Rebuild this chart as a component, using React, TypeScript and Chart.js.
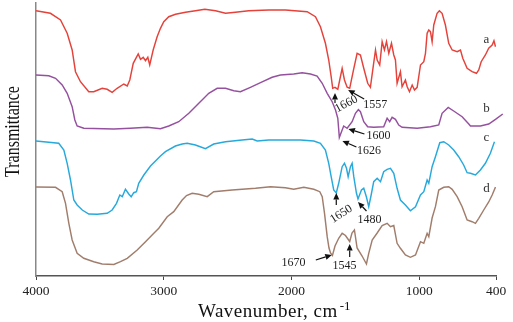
import React, { useEffect, useRef } from "react";
import { Chart, registerables } from "chart.js";

Chart.register(...registerables);

// Wavenumber axis ticks (cm-1), drawn from high to low
const X_TICKS = [4000, 3000, 2000, 1000, 400];

// Spectrum a
const waveA = [
  4000, 3887, 3808, 3756, 3717, 3691, 3652, 3587, 3548, 3482,
  3443, 3404, 3365, 3313, 3286, 3266, 3239, 3200, 3182, 3161,
  3143, 3125, 3110, 3083, 3052, 3026, 3000, 2961, 2908, 2830,
  2752, 2679, 2595, 2517, 2439, 2335, 2178, 2048, 1878, 1813,
  1774, 1735, 1709, 1690, 1678, 1660, 1638, 1623, 1604, 1586,
  1565, 1545, 1518, 1487, 1461, 1435, 1404, 1383, 1361, 1343,
  1330, 1310, 1291, 1273, 1257, 1239, 1218, 1200, 1187, 1174,
  1148, 1135, 1109, 1095, 1077, 1056, 1038, 1017, 991, 965,
  952, 939, 926, 913, 900, 887, 861, 843, 822, 796,
  770, 743, 704, 678, 660, 626, 587, 553, 535, 516,
  483, 457, 430, 416, 404,
];
const transA = [
  265.3, 262.7, 256, 242.7, 226, 204.3, 194.3, 184.3, 184.3, 187.7,
  186.7, 183.7, 187.7, 192, 190, 196, 212.7, 222, 216.7, 218.7,
  215.3, 218.7, 211, 226, 239.3, 247.7, 254.3, 259.3, 261.7, 263.7,
  265.3, 266.7, 265.3, 262.7, 263.7, 265.3, 266, 266, 264.3, 259.3,
  249.3, 232.7, 216, 199.3, 187.7, 188.7, 186.7, 196, 207.7, 196,
  188.7, 187.7, 204.3, 222.7, 221, 207.7, 192.7, 188.7, 209.3, 226,
  216, 211, 234.3, 226, 234.3, 222.7, 232.7, 221, 216, 192.7,
  204.3, 189.3, 196, 189.3, 184.3, 191, 186, 188.7, 211, 214.3,
  222.7, 242.7, 246, 244.3, 234.3, 251, 262.7, 265.3, 262.7, 251,
  232.7, 226, 224.3, 226, 217.7, 207.7, 204.3, 202.7, 206, 214.3,
  221, 227.7, 231, 235.3, 229.3,
];

// Spectrum b
const waveB = [
  4000, 3900, 3847, 3795, 3756, 3717, 3696, 3678, 3626, 3391,
  3261, 3130, 3026, 2961, 2883, 2804, 2726, 2648, 2582, 2517,
  2452, 2400, 2322, 2243, 2152, 2087, 1983, 1917, 1852, 1800,
  1760, 1721, 1682, 1656, 1638, 1626, 1607, 1592, 1565, 1526,
  1500, 1477, 1461, 1435, 1404, 1357, 1279, 1252, 1232, 1213,
  1187, 1161, 1135, 1017, 913, 848, 822, 774, 731, 665,
  613, 600, 522, 457, 404, 347,
];
const transB = [
  201, 200.3, 197.7, 191, 182.7, 169.3, 156, 150, 147.7, 147,
  147.7, 148.7, 147.3, 150, 154.3, 162.7, 172.7, 182.7, 187.7, 187.7,
  185.3, 184.3, 188.7, 193.3, 198.7, 201, 202, 203.3, 202, 200,
  192.7, 182.7, 174.3, 166, 157.7, 138.5, 145, 150, 147.7, 154.3,
  162.7, 166.5, 164.3, 154.3, 149.3, 148.7, 149.3, 157.7, 154.3, 158.7,
  156.7, 151, 148.7, 147.7, 149.3, 151, 162.7, 168.5, 165, 159.3,
  152, 150, 150, 152, 156.7, 162,
];

// Spectrum c
const waveC = [
  4000, 3822, 3782, 3756, 3730, 3704, 3678, 3638, 3587, 3521,
  3443, 3404, 3370, 3344, 3325, 3300, 3274, 3255, 3235, 3214,
  3196, 3156, 3104, 3026, 2987, 2909, 2856, 2817, 2752, 2674,
  2609, 2517, 2387, 2308, 2269, 2178, 2048, 1930, 1826, 1774,
  1735, 1709, 1690, 1670, 1650, 1631, 1604, 1586, 1570, 1557,
  1539, 1526, 1513, 1492, 1480, 1453, 1435, 1414, 1396, 1377,
  1357, 1330, 1304, 1279, 1252, 1226, 1200, 1174, 1148, 1109,
  1070, 1030, 991, 965, 939, 926, 900, 874, 840, 809,
  770, 731, 692, 653, 626, 600, 561, 522, 483, 444,
  412,
];
const transC = [
  135, 132.7, 126, 112.7, 96, 76, 71, 66, 62, 61.7,
  62.7, 66, 72.7, 81, 79.3, 86.7, 82, 79.3, 83.3, 84.3,
  92.7, 101, 110, 120, 124.3, 130, 132, 132.7, 131, 127.3,
  132, 134.3, 136, 137, 135, 136, 136, 136, 135, 132.7,
  126, 112.7, 99.3, 86, 83, 92.7, 109.3, 112.7, 107.7, 99.3,
  109.3, 112.7, 99.3, 82.7, 77, 86, 87.7, 79, 69.3, 81,
  94.3, 97.7, 94.3, 104.3, 106.7, 107.7, 102.7, 87.7, 76, 71,
  65.3, 69.3, 81, 84.3, 96, 92.7, 109.3, 119.3, 133.3, 134.3,
  131, 126, 119.3, 111, 103.3, 102.7, 101, 106, 112.7, 122.7,
  134.3,
];

// Spectrum d
const waveD = [
  4000, 3847, 3795, 3769, 3743, 3717, 3678, 3626, 3548, 3482,
  3391, 3339, 3286, 3208, 3143, 3078, 3039, 2973, 2922, 2856,
  2822, 2778, 2726, 2660, 2609, 2465, 2282, 2165, 2048, 1983,
  1904, 1826, 1779, 1760, 1742, 1721, 1707, 1695, 1680, 1660,
  1631, 1604, 1578, 1545, 1527, 1508, 1487, 1448, 1414, 1396,
  1369, 1330, 1291, 1252, 1226, 1200, 1174, 1148, 1109, 1070,
  1030, 991, 965, 939, 926, 900, 874, 848, 809, 770,
  743, 704, 665, 626, 587, 561, 535, 496, 457, 430,
  404,
];
const transD = [
  89, 88.7, 84.3, 72.7, 52.7, 36, 22.7, 17.7, 14.3, 12,
  11.5, 14.3, 17.7, 26, 34.3, 42.7, 47.7, 59.3, 64.3, 76,
  80.5, 82.7, 81.7, 79.3, 84.3, 86, 87.7, 89.3, 88.3, 86.7,
  88.7, 86.7, 84.3, 79.3, 62.7, 39.3, 28, 23, 20.5, 30,
  37.7, 42.7, 40.5, 34.5, 43, 46, 28, 20, 12, 22.7,
  36, 43, 50.5, 52.7, 49.3, 50.5, 32.7, 27.7, 21, 18.7,
  21, 34.3, 32.7, 42.7, 39.3, 58, 69.3, 86, 88.7, 89.3,
  86.7, 79.3, 69.3, 56, 54.3, 52.7, 57.7, 66, 74, 81,
  89,
];

const SERIES_NAMES = ["a", "b", "c", "d"];
const SERIES_WAVE = [waveA, waveB, waveC, waveD];
const SERIES_TRANS = [transA, transB, transC, transD];
const SERIES_COLORS = ["#e4423a", "#95509f", "#27a9dc", "#a17d6c"];
// where each curve's letter sits: [wavenumber, transmittance]
const SERIES_TAG_AT = [
  [475, 236],
  [475, 167],
  [475, 138],
  [475, 87],
];

// Peak assignments: arrow tip in data units, arrow tail / label centre as pixel offsets
const PEAK_NOTES = [
  { text: "1660", wn: 1660, t: 183, tail: [0, 10], label: [11.4, 11], angle: -28 },
  { text: "1557", wn: 1557, t: 186, tail: [16, 9], label: [27, 14.5], angle: 0 },
  { text: "1600", wn: 1555, t: 147, tail: [16, 5], label: [30, 6.5], angle: 0 },
  { text: "1626", wn: 1602, t: 135, tail: [14, 6], label: [26.7, 9.5], angle: 0 },
  { text: "1650", wn: 1650, t: 83, tail: [0, 12], label: [5, 21], angle: -33 },
  { text: "1480", wn: 1480, t: 74, tail: [8.5, 9], label: [11.5, 17.5], angle: 0 },
  { text: "1670", wn: 1685, t: 21, tail: [-16, 5], label: [-38.4, 7.5], angle: 0 },
  { text: "1545", wn: 1545, t: 32, tail: [0, 13], label: [-5.3, 21.5], angle: 0 },
];

const SERIF = '"Liberation Serif", "Times New Roman", serif';

const notesPlugin = {
  id: "spectrumNotes",
  afterDraw(chart: any) {
    const { ctx } = chart;
    const xs = chart.scales.x;
    const ys = chart.scales.y;
    ctx.save();

    // peak arrows and wavenumber labels
    ctx.strokeStyle = "#111";
    ctx.fillStyle = "#111";
    ctx.lineWidth = 1.2;
    for (const n of PEAK_NOTES) {
      const tx = xs.getPixelForValue(n.wn);
      const ty = ys.getPixelForValue(n.t);
      const sx = tx + n.tail[0];
      const sy = ty + n.tail[1];
      const ang = Math.atan2(ty - sy, tx - sx);
      const headLen = 6.5;
      const headHalf = 3;
      const bx = tx - Math.cos(ang) * headLen;
      const by = ty - Math.sin(ang) * headLen;
      ctx.beginPath();
      ctx.moveTo(sx, sy);
      ctx.lineTo(bx, by);
      ctx.stroke();
      const px = -Math.sin(ang) * headHalf;
      const py = Math.cos(ang) * headHalf;
      ctx.beginPath();
      ctx.moveTo(tx, ty);
      ctx.lineTo(bx + px, by + py);
      ctx.lineTo(bx - px, by - py);
      ctx.closePath();
      ctx.fill();

      ctx.save();
      ctx.translate(tx + n.label[0], ty + n.label[1]);
      ctx.rotate((n.angle * Math.PI) / 180);
      ctx.font = `12px ${SERIF}`;
      ctx.fillStyle = "#222";
      ctx.textAlign = "center";
      ctx.textBaseline = "middle";
      ctx.fillText(n.text, 0, 0);
      ctx.restore();
    }

    // curve letters
    ctx.font = `13px ${SERIF}`;
    ctx.fillStyle = "#333";
    ctx.textAlign = "center";
    ctx.textBaseline = "middle";
    SERIES_NAMES.forEach((name, i) => {
      const [w, t] = SERIES_TAG_AT[i];
      ctx.fillText(name, xs.getPixelForValue(w), ys.getPixelForValue(t));
    });

    // axis titles
    ctx.fillStyle = "#111";
    ctx.textBaseline = "alphabetic";
    ctx.textAlign = "left";
    ctx.font = `19px ${SERIF}`;
    ctx.letterSpacing = "0.5px";
    const main = "Wavenumber, cm";
    const x0 = 198;
    ctx.fillText(main, x0, 316.5);
    const w0 = ctx.measureText(main).width;
    ctx.letterSpacing = "0px";
    ctx.font = `13px ${SERIF}`;
    ctx.fillText("-1", x0 + w0 + 2, 310);

    ctx.save();
    ctx.translate(18.5, 131.5);
    ctx.rotate(-Math.PI / 2);
    ctx.scale(1, 1.3);
    ctx.font = `16px ${SERIF}`;
    ctx.textAlign = "center";
    ctx.fillText("Transmittance", 0, 0);
    ctx.restore();

    ctx.restore();
  },
};

export default function App() {
  const canvasRef = useRef<HTMLCanvasElement | null>(null);

  useEffect(() => {
    const canvas = canvasRef.current;
    if (!canvas) return;
    const datasets = SERIES_NAMES.map((name, i) => ({
      label: name,
      data: SERIES_WAVE[i].map((w, j) => ({ x: w, y: SERIES_TRANS[i][j] })),
      borderColor: SERIES_COLORS[i],
      borderWidth: 1.45,
      pointRadius: 0,
      fill: false,
      tension: 0,
      clip: name === "b" ? false : undefined,
    }));
    const chart = new Chart(canvas, {
      type: "line",
      data: { datasets } as any,
      options: {
        responsive: false,
        animation: false,
        devicePixelRatio: 1,
        layout: { padding: { left: 0, right: 17, top: 3, bottom: 0 } },
        plugins: { legend: { display: false }, tooltip: { enabled: false } },
        scales: {
          x: {
            type: "linear",
            reverse: true,
            min: 400,
            max: 4000,
            afterBuildTicks: (s: any) => {
              s.ticks = X_TICKS.map((v) => ({ value: v }));
            },
            afterFit: (s: any) => {
              s.height = 46;
            },
            grid: {
              display: true,
              drawOnChartArea: false,
              drawTicks: true,
              tickLength: 4,
              color: "#444",
              lineWidth: 1,
            },
            border: { display: true, color: "#555", width: 1.5 },
            ticks: {
              color: "#222",
              font: { family: SERIF, size: 13.5 },
              padding: 3,
              maxRotation: 0,
              autoSkip: false,
              callback: (v: any) => String(v),
            },
          },
          y: {
            min: 0,
            max: 273,
            afterFit: (s: any) => {
              s.width = 36;
            },
            grid: { display: false },
            border: { display: true, color: "#888", width: 1.5 },
            ticks: { display: false },
          },
        },
      } as any,
      plugins: [notesPlugin],
    });
    return () => chart.destroy();
  }, []);

  return (
    <div
      style={{
        position: "fixed",
        left: 0,
        top: 0,
        width: 513,
        height: 322,
        background: "#fff",
      }}
    >
      <canvas ref={canvasRef} width={513} height={322} style={{ display: "block" }} />
    </div>
  );
}
